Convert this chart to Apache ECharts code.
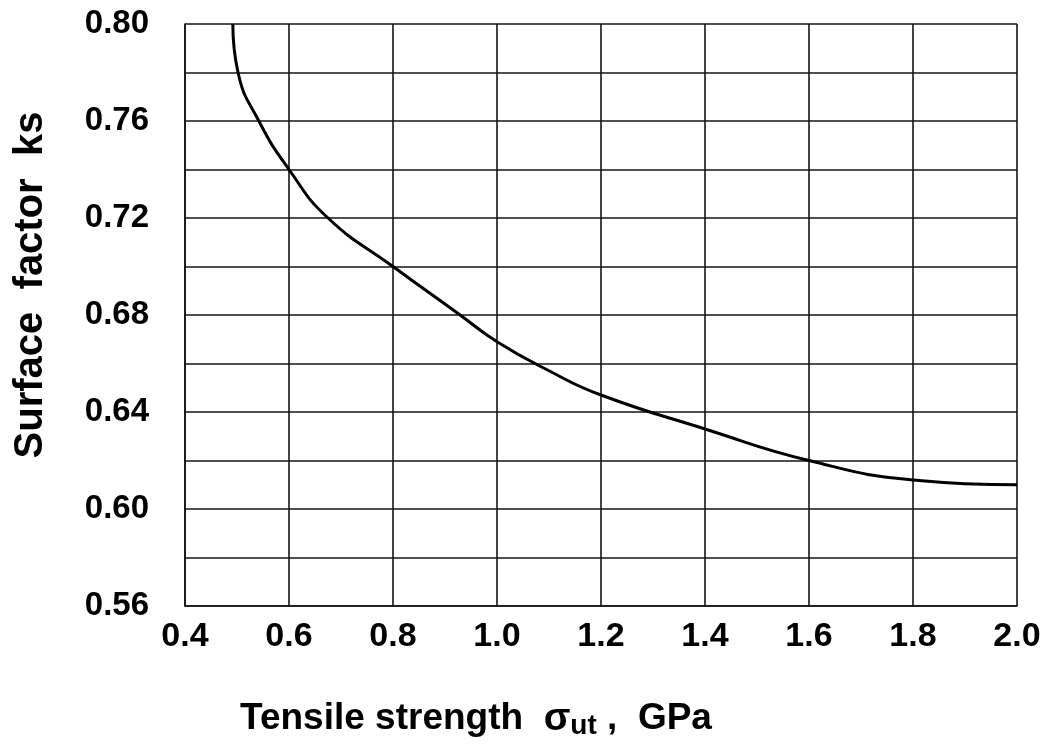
<!DOCTYPE html>
<html>
<head>
<meta charset="utf-8">
<script src="https://cdn.jsdelivr.net/npm/echarts@6/dist/echarts.min.js"></script>
<style>
  html, body { margin: 0; padding: 0; background: #fff; }
  #chart { width: 1047px; height: 745px; }
</style>
</head>
<body>
<div id="chart"></div>
<script>
// tensile strength (GPa) and surface factor
var strength = [0.492, 0.502, 0.542, 0.6, 0.675, 0.8, 0.929, 1.0, 1.1, 1.2, 1.4, 1.6, 1.8, 2.0];
var factor = [0.80, 0.78, 0.76, 0.74, 0.72, 0.70, 0.68, 0.669, 0.657, 0.647, 0.633, 0.62, 0.612, 0.61];

var points = strength.map(function (x, i) { return [x, factor[i]]; });

var gridColor = '#141414';
var chart = echarts.init(document.getElementById('chart'));
chart.setOption({
  animation: false,
  backgroundColor: '#fff',
  grid: {
    left: 185,
    right: 30,
    top: 24,
    bottom: 139
  },
  xAxis: {
    type: 'value',
    min: 0.4,
    max: 2.0,
    interval: 0.2,
    name: 'Tensile strength  {s|σ}{sub|ut} ,  GPa',
    nameLocation: 'middle',
    nameGap: 92,
    nameTextStyle: {
      fontFamily: 'Liberation Sans',
      fontWeight: 'bold',
      fontSize: 37,
      color: '#000',
      padding: [0, 250, 0, 0],
      rich: {
        s: { fontFamily: 'Liberation Sans', fontWeight: 'bold', fontSize: 39, color: '#000' },
        sub: { fontFamily: 'Liberation Sans', fontWeight: 'bold', fontSize: 28, color: '#000', padding: [14, 0, 0, 0] }
      }
    },
    axisLine: { lineStyle: { color: gridColor, width: 1.6 } },
    axisTick: { show: false },
    axisLabel: {
      margin: 14,
      fontFamily: 'Liberation Sans',
      fontWeight: 'bold',
      fontSize: 34,
      color: '#000',
      formatter: function (v) { return v.toFixed(1); }
    },
    splitLine: { show: true, lineStyle: { color: gridColor, width: 1.6 } }
  },
  yAxis: {
    type: 'value',
    min: 0.56,
    max: 0.80,
    interval: 0.02,
    name: 'Surface  factor  ks',
    nameLocation: 'middle',
    nameRotate: 90,
    nameGap: 134,
    nameTextStyle: {
      fontFamily: 'Liberation Sans',
      fontWeight: 'bold',
      fontSize: 40,
      color: '#000',
      padding: [0, 0, 0, 60]
    },
    axisLine: { lineStyle: { color: gridColor, width: 1.6 } },
    axisTick: { show: false },
    axisLabel: {
      margin: 36,
      fontFamily: 'Liberation Sans',
      fontWeight: 'bold',
      fontSize: 33,
      color: '#000',
      formatter: function (v) {
        var k = Math.round(v * 100);
        return k % 4 === 0 ? v.toFixed(2) : '';
      }
    },
    splitLine: { show: true, lineStyle: { color: gridColor, width: 1.6 } }
  },
  series: [
    {
      type: 'line',
      data: points,
      smooth: 0.5,
      showSymbol: false,
      lineStyle: { color: '#000', width: 3 }
    }
  ]
});
</script>
</body>
</html>
